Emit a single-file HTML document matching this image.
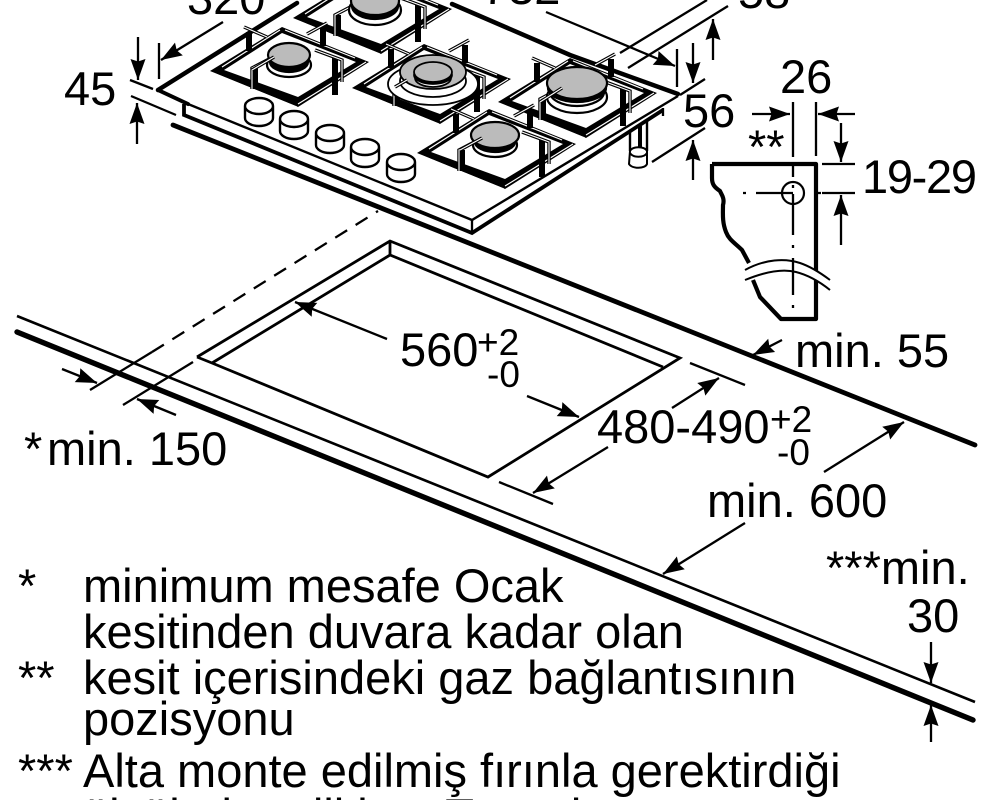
<!DOCTYPE html>
<html lang="tr"><head><meta charset="utf-8"><title>Ocak montaj ölçüleri</title>
<style>
html,body{margin:0;padding:0;background:#fff;overflow:hidden;width:1000px;height:800px}
svg{display:block;width:1000px;height:800px;overflow:hidden}
text{font-family:"Liberation Sans",Arial,sans-serif;font-size:47px;fill:#000}
.s{font-size:37px}
.l{fill:none;stroke:#000;stroke-width:2.3;stroke-linecap:butt}
.a{marker-end:url(#ah)}
</style></head><body>
<svg xmlns="http://www.w3.org/2000/svg" viewBox="0 0 1000 800" width="1000" height="800">
<defs>
<marker id="ah" markerUnits="userSpaceOnUse" markerWidth="26" markerHeight="24" refX="20" refY="10" orient="auto" overflow="visible">
<path d="M20,10 L-1,2.5 L1.5,10 L-1,17.5Z" fill="#000"/>
</marker>
<g id="grate">
<path d="M210,71 L282,27 L369,62 L298,107Z" fill="#000"/>
<path d="M224,70 L282,33 L356,62 L298,97Z" fill="#fff"/>
<path d="M213,73 L297,107 M298,104 L366,62 M222,67 L280,30 M285,30 L355,58" fill="none" stroke="#fff" stroke-width="1.2"/>
<path d="M249,32 V51 M323,28 V46 M255,68 V89 M335,58 V95" fill="none" stroke="#000" stroke-width="6"/>
<path d="M244,27 L267,37 M307,34 L327,23 M252,89 V68 L273,57 M315,50 L342,60 V82" fill="none" stroke="#000" stroke-width="3.4"/>
<path d="M244,27 L267,37 M307,34 L327,23 M252,89 V68 L273,57 M315,50 L342,60 V82" fill="none" stroke="#fff" stroke-width="1.1"/>
</g>
</defs>
<rect width="1000" height="800" fill="#fff"/>

<!-- counter -->
<path d="M17,316 L975,702" fill="none" stroke="#000" stroke-width="2.6"/>
<path d="M17,332 L973,720" fill="none" stroke="#000" stroke-width="5.4" stroke-linecap="round"/>
<path d="M173,125 L975,445" fill="none" stroke="#000" stroke-width="4.8" stroke-linecap="round"/>

<!-- cutout -->
<path d="M197,357 L390,241 L680,358 L488,477 L212,363 L197,357 M212,363 L390,255 L663,367 M390,241 V255" fill="none" stroke="#000" stroke-width="2.8" stroke-linejoin="miter"/>
<!-- dashed -->
<path d="M90,390 L152,352" class="l"/>
<path d="M152,352 L378,211" class="l" stroke-dasharray="14 10"/>
<path d="M123,405 L193,362" class="l"/>

<!-- hob body -->
<path d="M158,90 L300,0 L450,0 L678,95 L663,117 L472,233 L183,115 L183,105Z" fill="#fff"/>
<path d="M158,90 L297,3 M452,4 L570,55 L678,94" fill="none" stroke="#000" stroke-width="4.5" stroke-linecap="round"/>
<path d="M158,90 L188,104" fill="none" stroke="#000" stroke-width="4" stroke-linecap="round"/>
<path d="M188,104 L472,220 L678,96" fill="none" stroke="#000" stroke-width="2.4"/>
<path d="M184,104 V115 L472,233 L663,110" fill="none" stroke="#000" stroke-width="3.8"/>
<path d="M472,220 V233 M663,108 V116" class="l"/>

<!-- foot -->
<path d="M630,151 V131 M647,151 V121" fill="none" stroke="#000" stroke-width="2.4"/>
<path d="M640,126 V150" fill="none" stroke="#000" stroke-width="4"/>
<path d="M630,151 C632,146 645,146 647,151 V164 C645,169 632,169 629,164Z M630,153 C633,158 644,158 647,153" fill="#fff" stroke="#000" stroke-width="2"/>

<!-- knobs -->
<g fill="#fff" stroke="#000" stroke-width="2.4">
<path d="M245,106 V118 A14,8 0 0 0 273,118 V106 A14,8 0 0 0 245,106 A14,8 0 0 0 273,106"/>
<path d="M280,119 V131 A14,8 0 0 0 308,131 V119 A14,8 0 0 0 280,119 A14,8 0 0 0 308,119"/>
<path d="M316,133 V145 A14,8 0 0 0 344,145 V133 A14,8 0 0 0 316,133 A14,8 0 0 0 344,133"/>
<path d="M351,147 V159 A14,8 0 0 0 379,159 V147 A14,8 0 0 0 351,147 A14,8 0 0 0 379,147"/>
<path d="M387,162 V174 A14,8 0 0 0 415,174 V162 A14,8 0 0 0 387,162 A14,8 0 0 0 415,162"/>
</g>

<!-- burner 2 (back) -->
<use href="#grate" transform="translate(83,-53)"/>
<g stroke="#000" stroke-width="2.2">
<ellipse cx="375" cy="10" rx="26" ry="15" fill="#fff"/>
<ellipse cx="375" cy="6" rx="23" ry="13" fill="#000"/>
<ellipse cx="375" cy="1" rx="24" ry="14" fill="#bbb"/>
</g>
<!-- burner 1 -->
<use href="#grate"/>
<g stroke="#000" stroke-width="2.2">
<ellipse cx="289" cy="65" rx="22" ry="12" fill="#fff"/>
<ellipse cx="289" cy="62" rx="19" ry="10" fill="#000"/>
<ellipse cx="289" cy="55" rx="21" ry="12" fill="#bbb"/>
</g>
<path d="M252,70 L274,57" stroke="#000" stroke-width="3.4"/><path d="M252,70 L274,57" stroke="#fff" stroke-width="1.1"/>

<!-- burner 3 -->
<use href="#grate" transform="translate(142,17)"/>
<g stroke="#000" stroke-width="1.8">
<ellipse cx="433" cy="84" rx="45" ry="21" fill="#fff"/>
<ellipse cx="433" cy="81" rx="33" ry="16" fill="#fff"/>
<ellipse cx="433" cy="72" rx="33" ry="17" fill="#bbb"/>
<ellipse cx="433" cy="78" rx="18" ry="9" fill="#fff"/>
<ellipse cx="433" cy="75" rx="19" ry="9" fill="#000"/>
<ellipse cx="433" cy="72" rx="19" ry="10" fill="#bbb"/>
</g>
<path d="M395,87 L407,80" stroke="#000" stroke-width="3.4"/><path d="M395,87 L407,80" stroke="#fff" stroke-width="1.1"/>

<!-- burner 4 -->
<use href="#grate" transform="translate(288,31)"/>
<g stroke="#000" stroke-width="2.2">
<ellipse cx="577" cy="97" rx="30" ry="16" fill="#fff"/>
<ellipse cx="577" cy="92" rx="27" ry="14" fill="#fff"/>
<ellipse cx="577" cy="88" rx="29" ry="14" fill="#000"/>
<ellipse cx="577" cy="83" rx="30" ry="16" fill="#bbb"/>
</g>
<path d="M540,102 L562,88" stroke="#000" stroke-width="3.4"/><path d="M540,102 L562,88" stroke="#fff" stroke-width="1.1"/>

<!-- burner 5 -->
<use href="#grate" transform="translate(207,82)"/>
<g stroke="#000" stroke-width="2.2">
<ellipse cx="495" cy="145" rx="22" ry="12" fill="#fff"/>
<ellipse cx="495" cy="142" rx="20" ry="10" fill="#000"/>
<ellipse cx="495" cy="135" rx="24" ry="13" fill="#bbb"/>
</g>
<path d="M460,150 L482,138" stroke="#000" stroke-width="3.4"/><path d="M460,150 L482,138" stroke="#fff" stroke-width="1.1"/>

<!-- hob dimensions -->
<path class="l" d="M159,43 V79"/>
<path class="l a" d="M223,22 L161,60"/>
<path class="l a" d="M138,37 V80"/>
<path class="l" d="M130,80 L153,89"/>
<path class="l" d="M131,96 L176,115"/>
<path class="l a" d="M137,144 V103"/>
<path class="l a" d="M546,12 L675,66"/>
<path class="l" d="M677,49 V87"/>
<path class="l" d="M620,53 L707,0"/>
<path class="l" d="M628,68 L728,6"/>
<path class="l a" d="M713,60 V19"/>
<path class="l" d="M680,95 L705,79"/>
<path class="l a" d="M693,43 V83"/>
<path class="l" d="M652,162 L705,128"/>
<path class="l a" d="M693,180 V140"/>

<!-- section profile -->
<path d="M712,164 H816 V319 H781 L760,297 L753,280 M749,263 L742,250 C735,243 729,240 726,232 C722,222 723,213 723,205 C725,198 721,194 720,191 C714,187 712,184 712,178 V164" fill="none" stroke="#000" stroke-width="4.2" stroke-linejoin="round"/>
<path d="M745,270 C765,259 785,258 800,263 C812,267 822,274 830,280 L830,290 C820,282 808,275 796,272 C780,268 762,273 745,280Z" fill="#fff"/>
<path d="M745,270 C765,259 785,258 800,263 C812,267 822,274 830,280 M745,280 C762,273 780,268 796,272 C808,275 820,282 830,290" fill="none" stroke="#000" stroke-width="2"/>
<path class="l" d="M793,102 V157 M793,162 V177 M793,185 V188 M793,194 V235 M793,245 V248 M793,258 V295 M793,305 V308 M816,102 V156"/>
<path class="l" d="M743,193 H746 M756,193 H793 M818,193 H821"/>
<circle cx="793" cy="193" r="11" fill="none" stroke="#000" stroke-width="2.2"/>
<path class="l a" d="M752,114 H790"/>
<path class="l a" d="M855,114 H818"/>
<path class="l a" d="M841,123 V162"/>
<path class="l" d="M822,164 H855 M822,193 H855"/>
<path class="l a" d="M841,245 V195"/>

<!-- lower dimensions -->
<path class="l a" d="M387,339 L295,302"/>
<path class="l a" d="M527,396 L579,417"/>
<path class="l" d="M690,363 L745,385"/>
<path class="l a" d="M672,408 L719,378"/>
<path class="l a" d="M608,447 L533,493"/>
<path class="l" d="M499,482 L553,504"/>
<path class="l a" d="M824,472 L904,422"/>
<path class="l a" d="M745,523 L663,574"/>
<path class="l a" d="M782,340 L753,355"/>
<path class="l a" d="M931,642 V683"/>
<path class="l a" d="M931,742 V705"/>
<path class="l a" d="M62,369 L97,383"/>
<path class="l a" d="M176,415 L137,399"/>

<!-- labels -->
<text x="187" y="14">320</text>
<text x="482" y="4">732</text>
<text x="738" y="8">58</text>
<text x="64" y="105">45</text>
<text x="780" y="93">26</text>
<text x="683" y="127">56</text>
<text x="748" y="163">**</text>
<text x="862" y="193" letter-spacing="-1.3">19-29</text>
<text x="400" y="366">560</text>
<text class="s" x="477" y="355">+2</text>
<text class="s" x="487" y="387">-0</text>
<text x="597" y="443">480-490</text>
<text class="s" x="770" y="432">+2</text>
<text class="s" x="777" y="465">-0</text>
<text x="795" y="367">min. 55</text>
<text x="707" y="517">min. 600</text>
<text x="826" y="584">***min.</text>
<text x="907" y="632">30</text>
<text x="24" y="465">*</text>
<text x="47" y="465">min. 150</text>
<text x="18" y="602">*</text>
<text x="83" y="602">minimum mesafe Ocak</text>
<text x="83" y="648">kesitinden duvara kadar olan</text>
<text x="18" y="694">**</text>
<text x="83" y="694">kesit içerisindeki gaz bağlantısının</text>
<text x="83" y="735">pozisyonu</text>
<text x="18" y="787">***</text>
<text x="83" y="787">Alta monte edilmiş fırınla gerektirdiği</text>
<text x="83" y="832">ölçülerine dikkat. Tezgah</text>
</svg>
</body></html>
